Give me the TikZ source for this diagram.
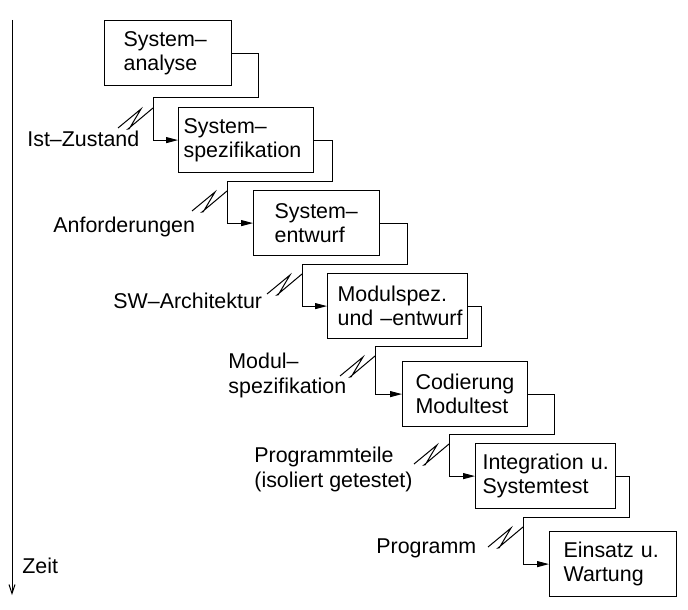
\documentclass[tikz,border=0pt]{standalone}
\usepackage{fontspec}
\setmainfont{Liberation Sans}
\usetikzlibrary{arrows.meta, calc}

\begin{document}
\begin{tikzpicture}[
        x=0.5pt, y=-0.5pt,
        every node/.style={font=\fontsize{10.7}{12.2}\selectfont},
        flow/.style={-{Triangle[length=6pt, width=3pt]}, line width=0.5pt},
        lbl/.style={inner sep=0pt, anchor=base west, align=left}
    ]

    \tikzset{
    phase/.style 2 args={draw, line width=0.6pt, anchor=north west, align=left,
        minimum height=32.5pt, inner ysep=0pt, inner xsep=0pt, text width=#2,
        execute at begin node={\leftskip=#1}},
    squig/.style={line width=0.5pt}
}

    \useasboundingbox (0,0) rectangle (688,609);

    \node[phase={9.5pt}{63.5pt}] (ana) at (104,20) {System–\\analyse};
    \node[phase={2.5pt}{67.5pt}] (spez) at (178,107) {System–\\spezifikation};
    \node[phase={10.5pt}{63pt}] (entw) at (253,190) {System–\\entwurf};
    \node[phase={5pt}{70pt}] (modul) at (327,273) {Modulspez.\\und –entwurf};
    \node[phase={6.5pt}{62.5pt}] (code) at (402,361) {Codierung\\Modultest};
    \node[phase={3.5pt}{70pt}] (integ) at (475,443) {Integration u.\\Systemtest};
    \node[phase={7pt}{63.5pt}] (einsatz) at (549,531) {Einsatz u.\\Wartung};

    \node[lbl] (ist) at (27,147) {Ist–Zustand};
    \node[lbl] (anf) at (53,232) {Anforderungen};
    \node[lbl] (arch) at (113,308) {SW–Architektur};
    \node[lbl] (mspez) at (228,393) {Modul–\\spezifikation};
    \node[lbl] (pteile) at (254,487) {Programmteile\\(isoliert getestet)};
    \node[lbl] (prog) at (376,553) {Programm};
    \node[lbl] (zeit) at (22,573) {Zeit};

    \coordinate (k1) at ($(spez.north west)+(-25,-9)$);
    \coordinate (k2) at ($(entw.north west)+(-26,-9)$);
    \coordinate (k3) at ($(modul.north west)+(-25,-9)$);
    \coordinate (k4) at ($(code.north west)+(-27,-15)$);
    \coordinate (k5) at ($(integ.north west)+(-26,-9)$);
    \coordinate (k6) at ($(einsatz.north west)+(-26,-14)$);

    \draw[flow] (ana.east) -- ++(26,0) |- (k1) |- (spez.west);
    \draw[flow] (spez.east) -- ++(18,0) |- (k2) |- (entw.west);
    \draw[flow] (entw.east) -- ++(27,0) |- (k3) |- (modul.west);
    \draw[flow] (modul.east) -- ++(13,0) |- (k4) |- (code.west);
    \draw[flow] (code.east) -- ++(26,0) |- (k5) |- (integ.west);
    \draw[flow] (integ.east) -- ++(13,0) |- (k6) |- (einsatz.west);

    \foreach \k in {k1,k2,k3,k4,k5,k6}
        \draw[squig, shift={(\k)}] (0,10) -- (-25,31) to[out=-40, in=-120] (-23,29.5)
            -- (-12,11) -- (-35,30);

    \coordinate (t0) at (12,20);
    \coordinate (t1) at (12,595);
    \draw[-{Straight Barb[length=4.5pt, width=3pt]}, line width=0.5pt] (t0) -- (t1);
    \end{tikzpicture}
\end{document}
